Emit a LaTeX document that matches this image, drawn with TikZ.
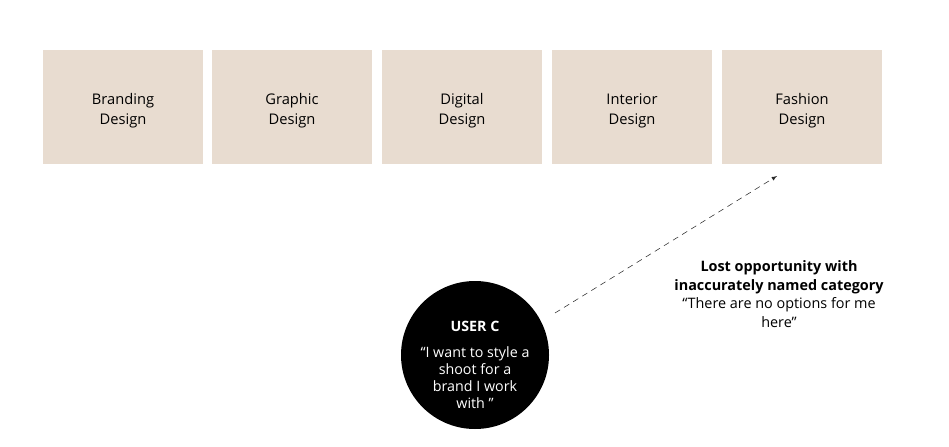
\documentclass[tikz,border=0pt]{standalone}
\usepackage{fontspec}
\setmainfont{Open Sans}
\definecolor{sand}{RGB}{232,220,208}
\definecolor{ink}{RGB}{40,40,40}
\tikzset{
	catbox/.style={fill=sand, minimum width=120pt, minimum height=85.5pt},
	cattext/.style={align=center, text height=23.5pt, text depth=2.6pt, yshift=-2.4pt, font=\fontsize{11}{15}\selectfont},
	userdot/.style={circle, fill=black, minimum size=111pt},
	usertext/.style={text=white, align=center, font=\fontsize{10.7}{12.8}\selectfont},
}
\begin{document}
\begin{tikzpicture}[x=0.75pt, y=-0.75pt]
	\useasboundingbox (0,0) rectangle (949,446);
	\node[catbox, label={[cattext]center:{Branding\\Design}}] (branding) at (123,107) {};
	\node[catbox, label={[cattext]center:{Graphic\\Design}}] (graphic) at (292,107) {};
	\node[catbox, label={[cattext]center:{Digital\\Design}}] (digital) at (462,107) {};
	\node[catbox, label={[cattext]center:{Interior\\Design}}] (interior) at (632,107) {};
	\node[catbox, label={[cattext]center:{Fashion\\Design}}] (fashion) at (802,107) {};
	\node[userdot] (userc) at (475,355) {};
	\node[usertext] (usertxt) at (475,365) {\textbf{USER C}\\[6pt]“I want to style a\\shoot for a\\brand I work\\with ”};
	\coordinate (A) at (555,313);
	\coordinate (B) at (777,176);
	\draw[thin, ink, dash pattern=on 4.5pt off 3.5pt, arrows={-latex}] (A) -- (B);
	\node[align=center, font=\fontsize{10.8}{14}\selectfont] (lost) at (779,294) {\textbf{Lost opportunity with}\\\textbf{inaccurately named category}\\“There are no options for me\\here”};
\end{tikzpicture}
\end{document}
